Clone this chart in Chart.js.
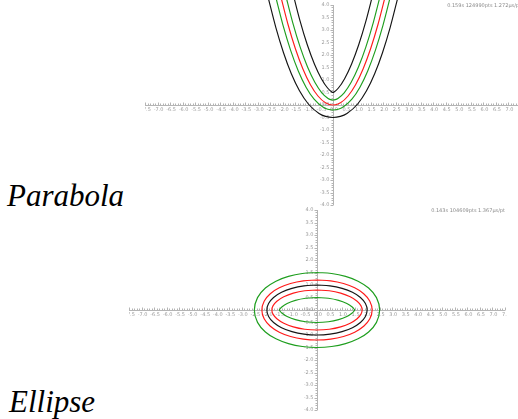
<!DOCTYPE html>
<html>
<head>
<meta charset="utf-8">
<script src="https://cdn.jsdelivr.net/npm/chart.js@4.4.1/dist/chart.umd.min.js"></script>
<style>
  html, body { margin:0; padding:0; background:#fff; width:518px; height:419px; overflow:hidden; position:relative; }
  canvas { position:absolute; }
  .ttl { position:absolute; font-family:"Liberation Serif", serif; font-style:italic; font-size:31px; line-height:31px; color:#000; white-space:nowrap; }
</style>
</head>
<body>
<div class="ttl" id="t1" style="left:7px; top:180px;">Parabola</div>
<div class="ttl" id="t2" style="left:9px; top:386px;">Ellipse</div>
<canvas id="c1" width="378" height="214" style="left:145px; top:0px; width:378px; height:214px;"></canvas>
<canvas id="c2" width="378" height="214" style="left:129px; top:205px; width:378px; height:214px;"></canvas>
<script>
// ---- tick labels ----
const xTicks = [-7.5,-7.0,-6.5,-6.0,-5.5,-5.0,-4.5,-4.0,-3.5,-3.0,-2.5,-2.0,-1.5,-1.0,-0.5,0.0,0.5,1.0,1.5,2.0,2.5,3.0,3.5,4.0,4.5,5.0,5.5,6.0,6.5,7.0,7.5];
const yTicks = [-4.0,-3.5,-3.0,-2.5,-2.0,-1.5,-1.0,-0.5,0.0,0.5,1.0,1.5,2.0,2.5,3.0,3.5,4.0];
const headerParabola = "0.159s 124990pts 1.272\u00b5s/pt";
const headerEllipse = "0.143s 104609pts 1.367\u00b5s/pt";

// ---- parabola curves (x, y) ----
const parabolaOuterBlack = [[-2.586,4.294],[-2.282,3.106],[-1.974,2.092],[-1.662,1.248],[-1.337,0.567],[-0.984,0.040],[-0.557,-0.339],[-0.294,-0.456],[0,-0.5],[0.294,-0.456],[0.557,-0.339],[0.984,0.040],[1.337,0.567],[1.662,1.248],[1.974,2.092],[2.282,3.106],[2.586,4.294]];
const parabolaOuterGreen = [[-2.295,4.364],[-1.993,3.186],[-1.690,2.187],[-1.385,1.363],[-1.075,0.713],[-0.754,0.232],[-0.403,-0.082],[-0.208,-0.169],[0,-0.2],[0.208,-0.169],[0.403,-0.082],[0.754,0.232],[1.075,0.713],[1.385,1.363],[1.690,2.187],[1.993,3.186],[2.295,4.364]];
const parabolaRed = [[-2.1,4.41],[-1.8,3.24],[-1.5,2.25],[-1.2,1.44],[-0.9,0.81],[-0.6,0.36],[-0.3,0.09],[0,0],[0.3,0.09],[0.6,0.36],[0.9,0.81],[1.2,1.44],[1.5,2.25],[1.8,3.24],[2.1,4.41]];
const parabolaInnerGreen = [[-1.905,4.456],[-1.607,3.294],[-1.310,2.313],[-1.015,1.517],[-0.725,0.907],[-0.446,0.488],[-0.197,0.262],[-0.093,0.214],[0,0.2],[0.093,0.214],[0.197,0.262],[0.446,0.488],[0.725,0.907],[1.015,1.517],[1.310,2.313],[1.607,3.294],[1.905,4.456]];
const parabolaInnerBlack = [[-1.614,4.526],[-1.318,3.374],[-1.026,2.408],[-0.738,1.632],[-0.463,1.053],[-0.216,0.680],[-0.043,0.519],[0,0.5],[0.043,0.519],[0.216,0.680],[0.463,1.053],[0.738,1.632],[1.026,2.408],[1.318,3.374],[1.614,4.526]];

// ---- ellipse curves (x, y) ----
const ellipseOuterGreen = [[0,1.5],[-0.584,1.462],[-1.139,1.346],[-1.638,1.154],[-2.059,0.878],[-2.373,0.495],[-2.5,0],[-2.373,-0.495],[-2.059,-0.878],[-1.638,-1.154],[-1.139,-1.346],[-0.584,-1.462],[0,-1.5],[0.584,-1.462],[1.139,-1.346],[1.638,-1.154],[2.059,-0.878],[2.373,-0.495],[2.5,0],[2.373,0.495],[2.059,0.878],[1.638,1.154],[1.139,1.346],[0.584,1.462],[0,1.5]];
const ellipseOuterRed = [[0,1.2],[-0.544,1.164],[-1.056,1.058],[-1.504,0.886],[-1.863,0.651],[-2.108,0.353],[-2.2,0],[-2.108,-0.353],[-1.863,-0.651],[-1.504,-0.886],[-1.056,-1.058],[-0.544,-1.164],[0,-1.2],[0.544,-1.164],[1.056,-1.058],[1.504,-0.886],[1.863,-0.651],[2.108,-0.353],[2.2,0],[2.108,0.353],[1.863,0.651],[1.504,0.886],[1.056,1.058],[0.544,1.164],[0,1.2]];
const ellipseBlack = [[0,1],[-0.518,0.966],[-1.0,0.866],[-1.414,0.707],[-1.732,0.5],[-1.932,0.259],[-2,0],[-1.932,-0.259],[-1.732,-0.5],[-1.414,-0.707],[-1.0,-0.866],[-0.518,-0.966],[0,-1],[0.518,-0.966],[1.0,-0.866],[1.414,-0.707],[1.732,-0.5],[1.932,-0.259],[2,0],[1.932,0.259],[1.732,0.5],[1.414,0.707],[1.0,0.866],[0.518,0.966],[0,1]];
const ellipseInnerRed = [[0,0.8],[-0.491,0.768],[-0.945,0.674],[-1.325,0.528],[-1.601,0.349],[-1.756,0.164],[-1.8,0],[-1.756,-0.164],[-1.601,-0.349],[-1.325,-0.528],[-0.945,-0.674],[-0.491,-0.768],[0,-0.8],[0.491,-0.768],[0.945,-0.674],[1.325,-0.528],[1.601,-0.349],[1.756,-0.164],[1.8,0],[1.756,0.164],[1.601,0.349],[1.325,0.528],[0.945,0.674],[0.491,0.768],[0,0.8]];
const ellipseInnerGreen = [[0,0.5],[-0.452,0.470],[-0.861,0.386],[-1.191,0.260],[-1.405,0.122],[-1.491,0.023],[-1.5,0],[-1.491,-0.023],[-1.405,-0.122],[-1.191,-0.260],[-0.861,-0.386],[-0.452,-0.470],[0,-0.5],[0.452,-0.470],[0.861,-0.386],[1.191,-0.260],[1.405,-0.122],[1.491,-0.023],[1.5,0],[1.491,0.023],[1.405,0.122],[1.191,0.260],[0.861,0.386],[0.452,0.470],[0,0.5]];

const BLACK = '#141414', RED = '#ff1a1a', GREEN = '#1e9e1e';
const AXIS = '#b4b4b4', LABEL = '#9a9a9a';

function pts(arr) { return arr.map(p => ({x: p[0], y: p[1]})); }

function ds(arr, color, mode) {
  return {
    data: pts(arr), showLine: true, borderColor: color, borderWidth: 1.15,
    pointRadius: 0, pointHoverRadius: 0, fill: false,
    tension: mode === 'monotone' ? 0 : 0.4,
    cubicInterpolationMode: mode === 'monotone' ? 'monotone' : 'default'
  };
}

const centerAxes = {
  id: 'centerAxes',
  beforeDatasetsDraw(chart, args, opts) {
    const ctx = chart.ctx, xs = chart.scales.x, ys = chart.scales.y;
    const x0 = Math.round(xs.getPixelForValue(0)) + 0.5;
    const y0 = Math.round(ys.getPixelForValue(0)) + 0.5;
    ctx.save();
    ctx.strokeStyle = AXIS; ctx.lineWidth = 1;
    // axis lines
    ctx.beginPath();
    ctx.moveTo(xs.getPixelForValue(xTicks[0]), y0);
    ctx.lineTo(xs.getPixelForValue(xTicks[xTicks.length - 1]), y0);
    ctx.moveTo(x0, ys.getPixelForValue(yTicks[0]));
    ctx.lineTo(x0, ys.getPixelForValue(yTicks[yTicks.length - 1]));
    ctx.stroke();
    // ticks (major + 4 minor between)
    ctx.beginPath();
    for (let i = 0; i < xTicks.length; i++) {
      const steps = i < xTicks.length - 1 ? 5 : 1;
      for (let k = 0; k < steps; k++) {
        const v = i < xTicks.length - 1 ? xTicks[i] + (xTicks[i+1] - xTicks[i]) * k / 5 : xTicks[i];
        const px = Math.round(xs.getPixelForValue(v)) + 0.5;
        const len = k === 0 ? 3 : 2;
        ctx.moveTo(px, y0); ctx.lineTo(px, y0 - len);
      }
    }
    for (let i = 0; i < yTicks.length; i++) {
      const steps = i < yTicks.length - 1 ? 5 : 1;
      for (let k = 0; k < steps; k++) {
        const v = i < yTicks.length - 1 ? yTicks[i] + (yTicks[i+1] - yTicks[i]) * k / 5 : yTicks[i];
        const py = Math.round(ys.getPixelForValue(v)) + 0.5;
        const len = k === 0 ? 3 : 2;
        ctx.moveTo(x0, py); ctx.lineTo(x0 - len, py);
      }
    }
    ctx.stroke();
    // labels
    ctx.fillStyle = LABEL;
    ctx.font = '5px "DejaVu Sans"';
    ctx.textAlign = 'center'; ctx.textBaseline = 'top';
    xTicks.forEach(v => ctx.fillText(v.toFixed(1), xs.getPixelForValue(v) + 1, y0 + 1.5));
    ctx.textAlign = 'right'; ctx.textBaseline = 'middle';
    yTicks.forEach(v => ctx.fillText(v.toFixed(1), x0 - 4, ys.getPixelForValue(v)));
    // header
    ctx.fillStyle = '#8a8a8a';
    ctx.textAlign = 'right'; ctx.textBaseline = 'middle';
    ctx.fillText(opts.header, xs.getPixelForValue(xTicks[xTicks.length - 1]), ys.getPixelForValue(yTicks[yTicks.length - 1]) + 0.8);
    ctx.restore();
  }
};

function makeChart(id, datasets, yMin, yMax, padding, header) {
  return new Chart(document.getElementById(id), {
    type: 'scatter',
    data: { datasets },
    options: {
      responsive: false, animation: false, devicePixelRatio: 1,
      layout: { padding },
      scales: {
        x: { type: 'linear', min: xTicks[0], max: xTicks[xTicks.length - 1], display: false },
        y: { type: 'linear', min: yMin, max: yMax, display: false }
      },
      plugins: { legend: { display: false }, tooltip: { enabled: false }, centerAxes: { header } },
      events: []
    },
    plugins: [centerAxes]
  });
}

makeChart('c1', [
  ds(parabolaOuterBlack, BLACK, 'monotone'),
  ds(parabolaOuterGreen, GREEN, 'monotone'),
  ds(parabolaRed, RED, 'monotone'),
  ds(parabolaInnerGreen, GREEN, 'monotone'),
  ds(parabolaInnerBlack, BLACK, 'monotone')
], -4, 4.2, {left: 0, right: 2, top: 0, bottom: 9}, headerParabola);

makeChart('c2', [
  ds(ellipseOuterGreen, GREEN),
  ds(ellipseOuterRed, RED),
  ds(ellipseBlack, BLACK),
  ds(ellipseInnerRed, RED),
  ds(ellipseInnerGreen, GREEN)
], -4, 4, {left: 0, right: 2, top: 5, bottom: 9}, headerEllipse);
</script>
</body>
</html>
